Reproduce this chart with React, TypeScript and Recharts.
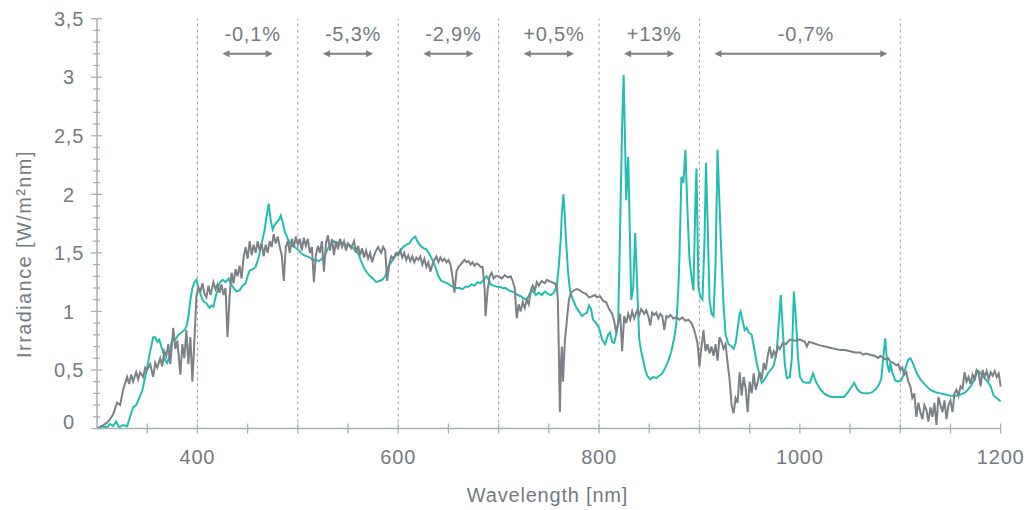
import { Line, LineChart, ReferenceLine, XAxis, YAxis } from 'recharts';

// [wavelength nm, irradiance W/m²nm]
const referenceSpectrum: [number, number][] = [
  [300, 0], [305, 0.02], [310, 0.05], [313, 0.08], [316, 0.12], [320, 0.22], [323, 0.2], [326, 0.33],
  [330, 0.44], [332, 0.38], [334, 0.46], [336, 0.4], [339, 0.48], [341, 0.42], [343, 0.48], [346, 0.44],
  [348, 0.52], [350, 0.5], [353, 0.55], [356, 0.44], [358, 0.56], [360, 0.52], [363, 0.6], [365, 0.53],
  [367, 0.66], [369, 0.62], [371, 0.72], [373, 0.55], [376, 0.86], [378, 0.68], [380, 0.75], [383, 0.46],
  [385, 0.72], [387, 0.6], [389, 0.84], [391, 0.55], [393, 0.78], [395, 0.4], [397, 0.75], [399, 1.13],
  [401, 1.2], [403, 1.17], [405, 1.24], [407, 1.15], [409, 1.12], [411, 1.22], [413, 1.14], [416, 1.25],
  [418, 1.19], [420, 1.23], [422, 1.16], [424, 1.23], [426, 1.14], [428, 1.2], [430, 0.78], [432, 1.12],
  [434, 1.33], [436, 1.24], [438, 1.36], [440, 1.3], [442, 1.39], [444, 1.28], [446, 1.46], [448, 1.55],
  [450, 1.45], [452, 1.6], [454, 1.48], [456, 1.57], [458, 1.5], [460, 1.6], [462, 1.52], [464, 1.58],
  [466, 1.47], [468, 1.57], [470, 1.5], [472, 1.6], [474, 1.55], [476, 1.66], [478, 1.58], [480, 1.64],
  [482, 1.55], [484, 1.48], [486, 1.26], [488, 1.55], [490, 1.6], [492, 1.5], [494, 1.62], [496, 1.55],
  [498, 1.64], [500, 1.57], [502, 1.62], [504, 1.52], [506, 1.63], [508, 1.56], [510, 1.62], [512, 1.5],
  [514, 1.55], [516, 1.25], [518, 1.48], [520, 1.56], [522, 1.5], [524, 1.6], [526, 1.34], [528, 1.58],
  [530, 1.65], [532, 1.52], [534, 1.62], [536, 1.48], [538, 1.6], [540, 1.53], [542, 1.62], [544, 1.55],
  [546, 1.6], [548, 1.52], [550, 1.58], [553, 1.54], [556, 1.6], [558, 1.5], [560, 1.56], [562, 1.48],
  [564, 1.54], [566, 1.46], [568, 1.52], [570, 1.45], [572, 1.5], [574, 1.42], [576, 1.48], [578, 1.52],
  [580, 1.55], [583, 1.5], [585, 1.55], [587, 1.52], [589, 1.26], [591, 1.4], [593, 1.47], [595, 1.45],
  [598, 1.5], [600, 1.48], [602, 1.52], [604, 1.46], [606, 1.5], [608, 1.44], [610, 1.48], [612, 1.43],
  [614, 1.47], [616, 1.42], [618, 1.46], [620, 1.44], [622, 1.47], [624, 1.4], [626, 1.45], [628, 1.38],
  [630, 1.42], [632, 1.34], [634, 1.4], [636, 1.44], [638, 1.47], [640, 1.42], [642, 1.46], [644, 1.43],
  [646, 1.45], [648, 1.42], [650, 1.44], [652, 1.4], [654, 1.3], [656, 1.16], [658, 1.34], [660, 1.38],
  [662, 1.4], [664, 1.42], [666, 1.44], [668, 1.42], [670, 1.43], [672, 1.4], [674, 1.42], [676, 1.39],
  [678, 1.41], [680, 1.4], [682, 1.38], [684, 1.38], [686, 1.2], [687, 0.96], [689, 1.18], [691, 1.3],
  [693, 1.33], [695, 1.28], [697, 1.3], [700, 1.3], [703, 1.28], [706, 1.31], [709, 1.29], [712, 1.3],
  [714, 1.26], [716, 1.2], [718, 0.94], [720, 1.06], [722, 1.0], [724, 1.08], [726, 1.03], [728, 1.1],
  [730, 1.06], [732, 1.18], [734, 1.22], [736, 1.18], [738, 1.25], [740, 1.22], [743, 1.26], [746, 1.24],
  [748, 1.27], [750, 1.26], [753, 1.25], [756, 1.24], [758, 1.2], [759, 1.1], [761, 0.14], [762, 0.55],
  [763, 0.7], [764, 0.4], [766, 0.75], [768, 0.93], [770, 1.1], [772, 1.16], [775, 1.18], [778, 1.19],
  [781, 1.18], [784, 1.16], [787, 1.15], [790, 1.12], [793, 1.13], [796, 1.14], [798, 1.12], [801, 1.13],
  [804, 1.09], [807, 1.08], [810, 1.02], [813, 0.98], [815, 0.92], [817, 0.82], [819, 0.9], [821, 0.98],
  [823, 0.66], [825, 0.96], [827, 0.9], [829, 0.98], [831, 0.93], [833, 1.0], [835, 0.94], [838, 1.01],
  [840, 0.97], [842, 1.02], [845, 0.98], [847, 1.01], [849, 0.96], [851, 0.88], [853, 0.99], [855, 0.97],
  [857, 0.99], [859, 0.94], [861, 0.98], [863, 0.96], [865, 0.84], [867, 0.96], [869, 0.95], [871, 0.97],
  [874, 0.94], [877, 0.95], [880, 0.93], [883, 0.95], [886, 0.92], [889, 0.93], [892, 0.9], [894, 0.86],
  [896, 0.8], [898, 0.73], [900, 0.53], [902, 0.7], [904, 0.84], [906, 0.66], [908, 0.72], [910, 0.64],
  [912, 0.7], [914, 0.62], [916, 0.72], [918, 0.58], [920, 0.78], [922, 0.74], [924, 0.68], [926, 0.72],
  [928, 0.56], [930, 0.42], [932, 0.2], [934, 0.13], [936, 0.26], [938, 0.22], [940, 0.48], [942, 0.28],
  [944, 0.44], [946, 0.34], [948, 0.14], [950, 0.4], [952, 0.3], [954, 0.47], [956, 0.33], [958, 0.4],
  [960, 0.48], [962, 0.42], [964, 0.56], [966, 0.5], [968, 0.62], [970, 0.7], [972, 0.6], [974, 0.66],
  [976, 0.62], [978, 0.7], [980, 0.68], [983, 0.73], [986, 0.72], [990, 0.76], [995, 0.75], [1000, 0.76],
  [1005, 0.74], [1007, 0.7], [1009, 0.74], [1013, 0.73], [1020, 0.71], [1025, 0.7], [1030, 0.69],
  [1035, 0.68], [1040, 0.67], [1045, 0.67], [1050, 0.66], [1055, 0.65], [1060, 0.65], [1063, 0.63],
  [1066, 0.64], [1070, 0.63], [1075, 0.62], [1078, 0.6], [1080, 0.62], [1085, 0.59], [1088, 0.6],
  [1090, 0.57], [1093, 0.56], [1096, 0.54], [1098, 0.55], [1100, 0.5], [1102, 0.52], [1104, 0.46],
  [1106, 0.48], [1108, 0.4], [1110, 0.36], [1112, 0.26], [1114, 0.3], [1116, 0.1], [1118, 0.22],
  [1120, 0.14], [1122, 0.08], [1124, 0.2], [1126, 0.16], [1128, 0.06], [1130, 0.18], [1132, 0.1],
  [1134, 0.22], [1136, 0.03], [1138, 0.27], [1140, 0.2], [1142, 0.14], [1144, 0.24], [1146, 0.08],
  [1148, 0.2], [1150, 0.24], [1152, 0.14], [1154, 0.3], [1156, 0.33], [1158, 0.28], [1160, 0.36],
  [1162, 0.34], [1164, 0.48], [1166, 0.4], [1168, 0.44], [1170, 0.38], [1172, 0.46], [1174, 0.42],
  [1176, 0.5], [1178, 0.48], [1180, 0.36], [1182, 0.5], [1184, 0.44], [1186, 0.49], [1188, 0.42],
  [1190, 0.48], [1192, 0.45], [1194, 0.49], [1196, 0.44], [1198, 0.47], [1200, 0.36],
];

const simulatorSpectrum: [number, number][] = [
  [300, 0], [305, 0.02], [310, 0.01], [313, 0.04], [316, 0.02], [319, 0.06], [322, 0.01], [326, 0.03],
  [330, 0.02], [333, 0.1], [336, 0.18], [339, 0.2], [342, 0.26], [345, 0.32], [347, 0.4], [350, 0.52],
  [352, 0.62], [354, 0.7], [356, 0.78], [358, 0.78], [360, 0.74], [362, 0.76], [364, 0.7], [366, 0.65],
  [368, 0.58], [370, 0.56], [372, 0.62], [374, 0.72], [376, 0.78], [378, 0.76], [381, 0.8], [384, 0.82],
  [387, 0.84], [389, 0.87], [391, 0.95], [393, 1.1], [395, 1.2], [397, 1.25], [399, 1.27], [401, 1.2],
  [403, 1.15], [405, 1.1], [407, 1.08], [409, 1.07], [412, 1.03], [414, 1.05], [416, 1.04], [418, 1.12],
  [420, 1.18], [422, 1.24], [425, 1.27], [428, 1.25], [431, 1.28], [433, 1.24], [436, 1.2], [439, 1.17],
  [442, 1.18], [445, 1.22], [448, 1.24], [450, 1.3], [452, 1.35], [455, 1.36], [458, 1.38], [461, 1.46],
  [463, 1.55], [465, 1.62], [467, 1.7], [469, 1.82], [471, 1.92], [473, 1.78], [475, 1.7], [477, 1.74],
  [479, 1.76], [481, 1.78], [483, 1.82], [485, 1.76], [487, 1.68], [489, 1.64], [491, 1.6], [494, 1.56],
  [497, 1.55], [500, 1.53], [503, 1.5], [506, 1.48], [509, 1.47], [512, 1.46], [515, 1.44], [518, 1.44],
  [521, 1.43], [524, 1.45], [527, 1.48], [530, 1.54], [533, 1.57], [536, 1.6], [539, 1.58], [542, 1.6],
  [545, 1.58], [548, 1.57], [551, 1.57], [554, 1.55], [557, 1.52], [560, 1.5], [563, 1.43], [566, 1.37],
  [569, 1.33], [572, 1.3], [575, 1.28], [578, 1.25], [581, 1.26], [584, 1.27], [587, 1.3], [590, 1.38],
  [593, 1.42], [596, 1.46], [599, 1.49], [602, 1.52], [605, 1.55], [608, 1.57], [611, 1.58], [614, 1.62],
  [617, 1.64], [619, 1.6], [622, 1.56], [625, 1.54], [628, 1.53], [631, 1.49], [634, 1.44], [637, 1.38],
  [640, 1.3], [643, 1.26], [646, 1.25], [649, 1.24], [652, 1.22], [655, 1.21], [658, 1.2], [661, 1.2],
  [664, 1.19], [667, 1.21], [670, 1.21], [673, 1.23], [676, 1.22], [679, 1.25], [682, 1.24], [685, 1.27],
  [688, 1.3], [690, 1.27], [692, 1.23], [695, 1.22], [698, 1.21], [701, 1.21], [704, 1.2], [707, 1.2],
  [710, 1.18], [713, 1.17], [716, 1.16], [719, 1.14], [722, 1.13], [725, 1.11], [728, 1.1], [731, 1.15],
  [734, 1.18], [737, 1.14], [740, 1.16], [743, 1.14], [746, 1.17], [749, 1.15], [752, 1.14], [755, 1.16],
  [758, 1.22], [760, 1.4], [762, 1.64], [763, 1.85], [764.5, 2.0], [766, 1.8], [767, 1.62], [769, 1.35],
  [771, 1.18], [774, 1.1], [777, 1.04], [780, 1.0], [783, 0.96], [786, 0.98], [788, 0.99], [790, 1.05],
  [792, 1.02], [794, 0.93], [797, 0.9], [800, 0.86], [803, 0.76], [806, 0.72], [809, 0.8], [811, 0.82],
  [813, 0.74], [815, 0.73], [817, 0.8], [819, 0.9], [821, 1.72], [823, 2.6], [824.5, 3.02], [826, 2.4],
  [827, 1.95], [829, 2.32], [830, 1.95], [832, 1.1], [834, 1.2], [836, 1.67], [837.5, 1.33], [840, 0.76],
  [842, 0.66], [844, 0.58], [846, 0.5], [848, 0.45], [851, 0.42], [854, 0.44], [857, 0.43], [860, 0.45],
  [863, 0.47], [866, 0.52], [869, 0.58], [872, 0.66], [875, 0.78], [877, 0.9], [879, 1.2], [880, 1.44],
  [882, 2.15], [884, 2.1], [886, 2.38], [888, 1.87], [890, 1.45], [892, 1.3], [894, 1.18], [896, 1.95],
  [897, 2.22], [899, 1.2], [901, 1.12], [903, 1.1], [905, 1.6], [906.5, 2.27], [908, 1.8], [910, 1.1],
  [912, 0.98], [914, 0.96], [916, 1.4], [918, 2.38], [920, 1.9], [922, 1.45], [924, 1.05], [926, 0.8],
  [929, 0.72], [932, 0.7], [934, 0.68], [936, 0.73], [938, 0.85], [940, 0.98], [941, 1.0], [943, 0.92],
  [945, 0.84], [947, 0.86], [949, 0.82], [952, 0.8], [955, 0.66], [957, 0.56], [960, 0.45], [962, 0.39],
  [965, 0.42], [968, 0.47], [971, 0.5], [974, 0.54], [977, 0.66], [979, 0.9], [981, 1.14], [983, 0.84],
  [985, 0.55], [987, 0.43], [990, 0.44], [992, 0.6], [994, 1.17], [996, 0.95], [998, 0.62], [1000, 0.44],
  [1003, 0.4], [1006, 0.39], [1010, 0.39], [1013, 0.47], [1016, 0.4], [1020, 0.34], [1024, 0.3],
  [1028, 0.28], [1032, 0.27], [1036, 0.27], [1040, 0.27], [1044, 0.27], [1048, 0.31], [1051, 0.35],
  [1054, 0.39], [1057, 0.34], [1060, 0.31], [1064, 0.3], [1068, 0.3], [1072, 0.31], [1076, 0.34],
  [1079, 0.38], [1081, 0.42], [1083, 0.6], [1085, 0.77], [1087, 0.55], [1089, 0.48], [1090, 0.56],
  [1092, 0.48], [1095, 0.41], [1098, 0.4], [1101, 0.41], [1104, 0.48], [1106, 0.54], [1108, 0.59],
  [1110, 0.6], [1113, 0.55], [1116, 0.48], [1120, 0.42], [1125, 0.37], [1130, 0.33], [1135, 0.31],
  [1140, 0.3], [1145, 0.29], [1150, 0.28], [1155, 0.28], [1160, 0.29], [1165, 0.31], [1170, 0.36],
  [1174, 0.42], [1176, 0.47], [1178, 0.49], [1181, 0.46], [1184, 0.43], [1187, 0.4], [1190, 0.36],
  [1193, 0.28], [1196, 0.26], [1200, 0.23],
];

const xTicks = [350, 400, 450, 500, 550, 600, 650, 700, 750, 800, 850, 900, 950, 1000, 1050, 1100, 1150, 1200];
const xLabelTicks = [400, 600, 800, 1000, 1200];
const yTicks = [
  0, 0.1, 0.2, 0.3, 0.4, 0.5, 0.6, 0.7, 0.8, 0.9, 1, 1.1, 1.2, 1.3, 1.4, 1.5, 1.6, 1.7,
  1.8, 1.9, 2, 2.1, 2.2, 2.3, 2.4, 2.5, 2.6, 2.7, 2.8, 2.9, 3, 3.1, 3.2, 3.3, 3.4, 3.5,
];
const yLabelTicks = [0, 0.5, 1, 1.5, 2, 2.5, 3, 3.5];
const dividers = [400, 500, 600, 700, 800, 900, 1100];

// deviation bands: arrow start / end (nm) and label
const bandStart = [425, 525, 625, 725, 825, 915];
const bandEnd = [475, 575, 675, 775, 875, 1087];
const bandLabel = ['-0,1%', '-5,3%', '-2,9%', '+0,5%', '+13%', '-0,7%'];
const bandLevel = 3.2;

const TEAL = '#22bdb1';
const GREY = '#7b8187';
const AXIS = '#a9afb4';
const TEXT = '#737a81';
const FONT = '"Liberation Sans", Arial, sans-serif';

const toPoints = (rows: [number, number][]) => rows.map(([nm, v]) => ({ nm, v }));

const XTick = ({ x, y, payload }: any) => {
  const v = payload.value as number;
  return (
    <g>
      <line x1={x} x2={x} y1={y - 5} y2={y + 5} stroke={AXIS} strokeWidth={1.3} />
      {xLabelTicks.includes(v) && (
        <text x={x} y={y + 35} textAnchor="middle" fill={TEXT} fontSize={20} letterSpacing={0.8} fontFamily={FONT}>
          {v}
        </text>
      )}
    </g>
  );
};

const YTick = ({ x, y, payload }: any) => {
  const v = payload.value as number;
  const major = yLabelTicks.some((t) => Math.abs(t - v) < 1e-6);
  return (
    <g>
      <line
        x1={major ? x - 6 : x - 4}
        x2={major ? x + 5 : x + 3}
        y1={y}
        y2={y}
        stroke={AXIS}
        strokeWidth={1.3}
      />
      {major && (
        <text
          x={x - 28}
          y={v === 0 ? y - 7 : y}
          dy="0.36em"
          textAnchor="middle"
          fill={TEXT}
          fontSize={20}
          letterSpacing={0.8}
          fontFamily={FONT}
        >
          {String(v).replace('.', ',')}
        </text>
      )}
    </g>
  );
};

const bandShape = (label: string) => (props: any) => {
  const { x1, x2, y1 } = props;
  const head = 7;
  return (
    <g>
      <line x1={x1 + 2} x2={x2 - 2} y1={y1} y2={y1} stroke={GREY} strokeWidth={2} />
      <polygon points={`${x1},${y1} ${x1 + head},${y1 - 3.5} ${x1 + head},${y1 + 3.5}`} fill={GREY} />
      <polygon points={`${x2},${y1} ${x2 - head},${y1 - 3.5} ${x2 - head},${y1 + 3.5}`} fill={GREY} />
      <text
        x={(x1 + x2) / 2 + 5}
        y={y1 - 13}
        textAnchor="middle"
        fill={TEXT}
        fontSize={20}
        letterSpacing={0.8}
        fontFamily={FONT}
      >
        {label}
      </text>
    </g>
  );
};

export default function App() {
  return (
    <div style={{ position: 'absolute', left: 0, top: 0, width: 1035, height: 510, background: '#fff' }}>
      <LineChart width={1035} height={510} margin={{ top: 18.7, right: 34.3, bottom: 41.5, left: 0 }}>
        <XAxis
          dataKey="nm"
          type="number"
          domain={[300, 1200]}
          ticks={xTicks}
          interval={0}
          height={40}
          tickSize={0}
          tickMargin={0}
          tick={<XTick />}
          axisLine={{ stroke: AXIS, strokeWidth: 1.5 }}
          allowDuplicatedCategory={false}
        />
        <YAxis
          type="number"
          domain={[0, 3.5]}
          ticks={yTicks}
          interval={0}
          width={97}
          tickSize={0}
          tickMargin={0}
          tick={<YTick />}
          axisLine={{ stroke: AXIS, strokeWidth: 1.5 }}
        />
        {dividers.map((d) => (
          <ReferenceLine key={d} x={d} stroke="#9ea3a8" strokeDasharray="3 3" strokeWidth={1} />
        ))}
        <Line
          data={toPoints(simulatorSpectrum)}
          dataKey="v"
          type="linear"
          stroke={TEAL}
          strokeWidth={2}
          dot={false}
          activeDot={false}
          isAnimationActive={false}
        />
        <Line
          data={toPoints(referenceSpectrum)}
          dataKey="v"
          type="linear"
          stroke={GREY}
          strokeWidth={2}
          dot={false}
          activeDot={false}
          isAnimationActive={false}
        />
        {bandLabel.map((label, i) => (
          <ReferenceLine
            key={label}
            segment={[
              { x: bandStart[i], y: bandLevel },
              { x: bandEnd[i], y: bandLevel },
            ]}
            shape={bandShape(label)}
          />
        ))}
      </LineChart>
      <div
        style={{
          position: 'absolute',
          left: 0,
          width: 1035,
          top: 484,
          paddingLeft: 60,
          textAlign: 'center',
          color: TEXT,
          fontSize: 20,
          letterSpacing: 0.8,
          fontFamily: FONT,
          boxSizing: 'border-box',
        }}
      >
        Wavelength [nm]
      </div>
      <svg style={{ position: 'absolute', left: 0, top: 0 }} width={60} height={510}>
        <text
          transform="translate(31 254) rotate(-90)"
          textAnchor="middle"
          fill={TEXT}
          fontSize={20}
          letterSpacing={1.4}
          fontFamily={FONT}
        >
          Irradiance [W/m²nm]
        </text>
      </svg>
    </div>
  );
}
